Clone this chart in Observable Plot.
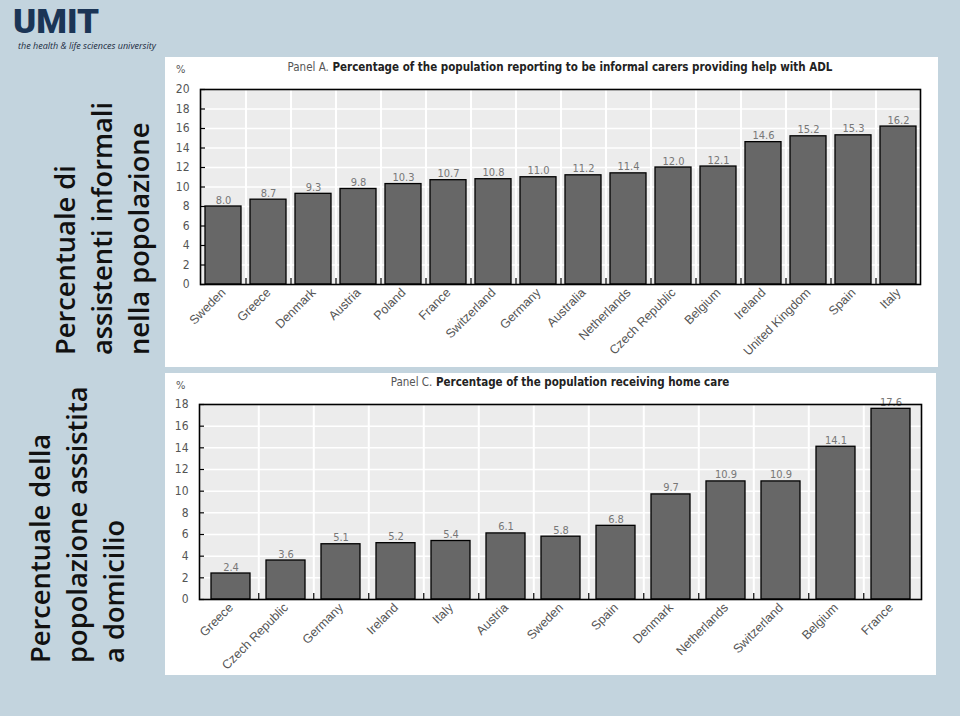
<!DOCTYPE html>
<html><head><meta charset="utf-8">
<script src="https://cdn.jsdelivr.net/npm/d3@7"></script>
<script src="https://cdn.jsdelivr.net/npm/@observablehq/plot@0.6"></script>
<style>
body{margin:0;background:#c3d4de;width:960px;height:716px;position:relative;overflow:hidden;font-family:"Open Sans",sans-serif;}
.panel{position:absolute;background:#fff}
.chart{position:absolute}
.title{position:absolute;font-family:"Liberation Sans Narrow","DejaVu Sans Condensed",sans-serif;font-size:11.5px;line-height:14px;font-weight:bold;color:#222;white-space:nowrap;transform:translateX(-50%)}
.title span{font-weight:normal;color:#555}
.pct{position:absolute;font-family:"Liberation Sans Narrow","DejaVu Sans Condensed",sans-serif;font-size:11px;line-height:12px;color:#555}
.side{position:absolute;transform:rotate(-90deg);transform-origin:0 0;font-family:"Open Sans",sans-serif;font-weight:600;font-size:27.3px;line-height:37px;white-space:nowrap;color:#111}
.logo{position:absolute;left:13px;top:6px;font-family:Roboto,sans-serif;font-weight:900;font-size:34px;line-height:30px;height:30px;overflow:visible;color:#1b3556;transform:scaleX(1.03);transform-origin:0 0}
.tag{position:absolute;left:18px;top:41px;font-family:"Open Sans",sans-serif;font-style:italic;font-size:9px;line-height:10px;color:#1a2a40;white-space:nowrap}
</style>
</head><body>
<div class="logo">UMIT</div>
<div class="tag">the health &amp; life sciences university</div>

<div class="side" style="left:46px;top:355px">Percentuale di<br>assistenti informali<br>nella popolazione</div>
<div class="side" style="left:21px;top:663px">Percentuale della<br>popolazione assistita<br>a domicilio</div>

<div class="panel" style="left:165px;top:57px;width:773px;height:310px"></div>
<div class="panel" style="left:165px;top:373px;width:771px;height:302px"></div>

<div class="title" style="left:560px;top:60px"><span>Panel A.</span> Percentage of the population reporting to be informal carers providing help with ADL</div>
<div class="title" style="left:560px;top:375px"><span>Panel C.</span> Percentage of the population receiving home care</div>
<div class="pct" style="left:176px;top:64px">%</div>
<div class="pct" style="left:176px;top:380px">%</div>

<div id="chartA" class="chart" style="left:165px;top:80px"></div>
<div id="chartC" class="chart" style="left:165px;top:395px"></div>

<script>
const countriesA = ["Sweden","Greece","Denmark","Austria","Poland","France","Switzerland","Germany","Australia","Netherlands","Czech Republic","Belgium","Ireland","United Kingdom","Spain","Italy"];
const valuesA = [8.0, 8.7, 9.3, 9.8, 10.3, 10.7, 10.8, 11.0, 11.2, 11.4, 12.0, 12.1, 14.6, 15.2, 15.3, 16.2];
const ticksA = [0,2,4,6,8,10,12,14,16,18,20];

const countriesC = ["Greece","Czech Republic","Germany","Ireland","Italy","Austria","Sweden","Spain","Denmark","Netherlands","Switzerland","Belgium","France"];
const valuesC = [2.4, 3.6, 5.1, 5.2, 5.4, 6.1, 5.8, 6.8, 9.7, 10.9, 10.9, 14.1, 17.6];
const ticksC = [0,2,4,6,8,10,12,14,16,18];

const narrow = '"Liberation Sans Narrow","DejaVu Sans Condensed",sans-serif';

function panel({countries, values, yMax, yTicks, width, height, marginLeft, marginRight, marginTop, marginBottom, paddingInner}) {
  const data = countries.map((c, i) => ({country: c, value: values[i]}));
  const plotW = width - marginLeft - marginRight;
  const plotH = height - marginTop - marginBottom;
  const step = plotW / countries.length;
  const inner = countries.slice(0, -1);
  return Plot.plot({
    width, height, marginLeft, marginRight, marginTop, marginBottom,
    style: {color: "#555", fontFamily: narrow, background: "transparent", overflow: "visible"},
    x: {domain: countries, paddingInner, paddingOuter: paddingInner / 2, label: null},
    y: {domain: [0, yMax], label: null},
    marks: [
      Plot.frame({fill: "#ececec"}),
      Plot.ruleY(yTicks.slice(1), {stroke: "#fff", strokeWidth: 1.5}),
      Plot.ruleX(inner, {x: d => d, dx: step / 2, stroke: "#fff", strokeWidth: 2}),
      Plot.barY(data, {x: "country", y: "value", fill: "#676767", stroke: "#000", strokeWidth: 1.3}),
      Plot.ruleY(yTicks, {stroke: "#000", strokeWidth: 1.2, insetRight: plotW - 5}),
      Plot.ruleX(inner, {x: d => d, dx: step / 2, stroke: "#000", strokeWidth: 1.2, insetTop: plotH - 6}),
      Plot.text(data, {x: "country", y: "value", text: d => d.value.toFixed(1), dy: -3, lineAnchor: "bottom", fill: "#777", fontSize: 11}),
      Plot.frame({stroke: "#000", strokeWidth: 1.6}),
      Plot.axisY({ticks: yTicks, tickSize: 0, tickPadding: 11, fontSize: 12, fill: "#555"}),
      Plot.axisX({tickRotate: -45, tickSize: 0, tickPadding: 6, fontSize: 12.5, fontFamily: '"Liberation Sans", Arial, sans-serif', fill: "#555"})
    ]
  });
}

document.getElementById("chartA").append(panel({
  countries: countriesA, values: valuesA, yMax: 20, yTicks: ticksA,
  width: 773, height: 285, marginLeft: 35, marginRight: 18, marginTop: 9, marginBottom: 81, paddingInner: 0.2
}));
document.getElementById("chartC").append(panel({
  countries: countriesC, values: valuesC, yMax: 18, yTicks: ticksC,
  width: 771, height: 278, marginLeft: 34, marginRight: 15, marginTop: 9, marginBottom: 74, paddingInner: 0.3
}));
</script>
</body></html>
